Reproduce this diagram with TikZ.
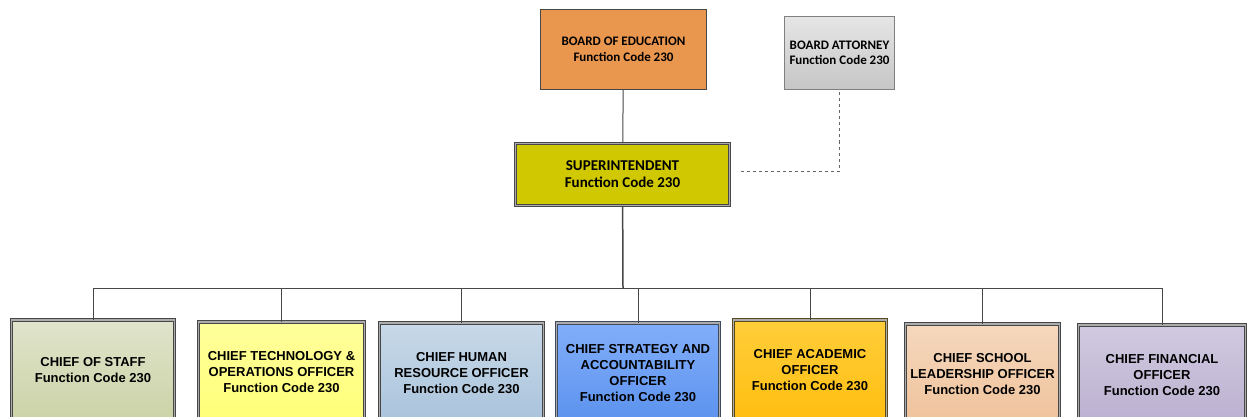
\documentclass[tikz,border=0pt]{standalone}
\usepackage{fontspec}
\usepackage{tikz}
\newfontfamily\topfont{Carlito}
\newfontfamily\chieffont{Liberation Sans}

\definecolor{boardfill}{HTML}{E9964F}
\definecolor{superfill}{HTML}{D0C800}
\definecolor{linegray}{HTML}{474747}
\definecolor{stafftop}{HTML}{E0E4CC}\definecolor{staffbot}{HTML}{CBD3A6}
\definecolor{techtop}{HTML}{FFFF9C}\definecolor{techbot}{HTML}{FFFF78}
\definecolor{hrtop}{HTML}{C8D9E8}\definecolor{hrbot}{HTML}{A9C3DC}
\definecolor{strattop}{HTML}{82AEFA}\definecolor{stratbot}{HTML}{5B92EE}
\definecolor{acadtop}{HTML}{FFCE3A}\definecolor{acadbot}{HTML}{FFBE10}
\definecolor{leadtop}{HTML}{F5D8BE}\definecolor{leadbot}{HTML}{EFC29A}
\definecolor{fintop}{HTML}{D0CAE0}\definecolor{finbot}{HTML}{BBB0D0}
\definecolor{stratline}{HTML}{3E4A5E}
\definecolor{acadline}{HTML}{5A4A20}

\begin{document}
\begin{tikzpicture}[x=1pt,y=-1pt,
every node/.style = {shape=rectangle, draw=linegray, align=center, text=black},
board/.style = {line width=1.2pt, font=\topfont\bfseries\fontsize{13}{15.5}\selectfont},
chief/.style = {double=gray!65, double distance=1.3pt, line width=0.9pt,
	minimum height=100pt, inner sep=2pt,
	font=\chieffont\bfseries\fontsize{13}{16}\selectfont},
link/.style = {draw=linegray, line width=1pt}]
\useasboundingbox (0,0) rectangle (1247,417);
\clip (0,0) rectangle (1247,417);

% top of the chart
\node[board, fill=boardfill, minimum width=166pt, minimum height=80pt] (board) at (623.5,49.5)
	{BOARD OF EDUCATION\\Function Code 230};
\node[board, draw=gray, top color=gray!20, bottom color=gray!45, minimum width=110pt, minimum height=73pt] (attorney) at (839.5,53)
	{BOARD ATTORNEY\\Function Code 230};
\node[board, fill=superfill, double=gray!65, double distance=1.3pt, line width=0.9pt,
	minimum width=214pt, minimum height=62pt, font=\topfont\bfseries\fontsize{15}{17}\selectfont] (super) at (622.5,174.5)
	{SUPERINTENDENT\\Function Code 230};

% chiefs
\node[chief, top color=stafftop, bottom color=staffbot, minimum width=163pt] (staff) at (93,370)
	{CHIEF OF STAFF\\Function Code 230};
\node[chief, top color=techtop, bottom color=techbot, minimum width=166pt] (tech) at (281.5,372)
	{CHIEF TECHNOLOGY \&\\OPERATIONS OFFICER\\Function Code 230};
\node[chief, top color=hrtop, bottom color=hrbot, minimum width=164pt] (hr) at (461.5,373)
	{CHIEF HUMAN\\RESOURCE OFFICER\\Function Code 230};
\node[chief, draw=stratline, top color=strattop, bottom color=stratbot, minimum width=163pt] (strategy) at (638,373)
	{CHIEF STRATEGY AND\\ACCOUNTABILITY\\OFFICER\\Function Code 230};
\node[chief, draw=acadline, top color=acadtop, bottom color=acadbot, minimum width=153pt] (academic) at (810,370)
	{CHIEF ACADEMIC\\OFFICER\\Function Code 230};
\node[chief, top color=leadtop, bottom color=leadbot, minimum width=154pt] (leadership) at (982.5,374)
	{CHIEF SCHOOL\\LEADERSHIP OFFICER\\Function Code 230};
\node[chief, top color=fintop, bottom color=finbot, minimum width=167pt] (finance) at (1162,375)
	{CHIEF FINANCIAL\\OFFICER\\Function Code 230};

% connectors
\coordinate (bus) at (623,288);
\coordinate (aside) at (741,171);
\draw[link] (board) -- (super);
\draw[link, line width=1.5pt] (super) -- (bus);
\draw[link] (bus) -| (staff.north);
\draw[link] (bus) -| (tech.north);
\draw[link] (bus) -| (hr.north);
\draw[link] (bus) -| (strategy.north);
\draw[link] (bus) -| (academic.north);
\draw[link] (bus) -| (leadership.north);
\draw[link] (bus) -| (finance.north);
\draw[link, dashed, draw=gray!80!black] (aside) -| (attorney.south);
\end{tikzpicture}
\end{document}
